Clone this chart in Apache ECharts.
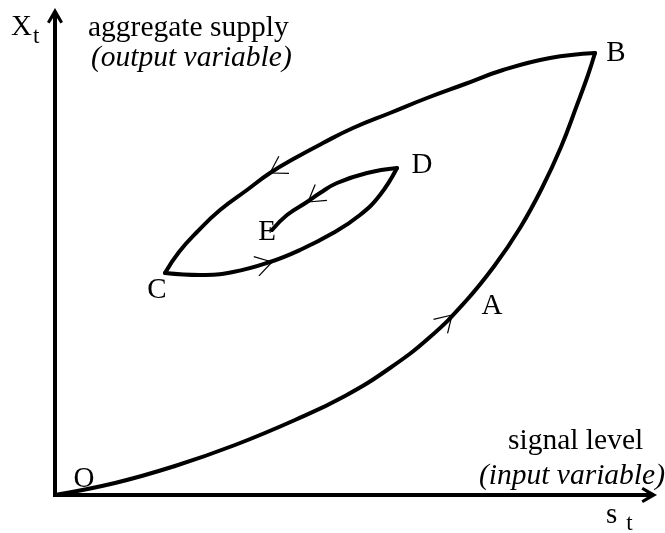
<!DOCTYPE html>
<html>
<head>
<meta charset="utf-8">
<script src="https://cdn.jsdelivr.net/npm/echarts@6/dist/echarts.min.js"></script>
<style>
  html, body { margin: 0; padding: 0; background: #fff; }
  #chart { width: 665px; height: 533px; }
</style>
</head>
<body>
<div id="chart"></div>
<script>
// curve pieces, x = signal level, y = aggregate supply (arbitrary units)
var pathOB = [[0, 0], [60, 12], [120, 29], [180, 50], [240, 75], [290, 99], [335, 127], [375, 158],
  [410, 193], [440, 230], [465, 267], [487, 307], [506, 348], [522, 390], [533, 420], [540, 442]];
var pathBC = [[540, 442], [495, 437], [448, 425], [410, 411], [372, 397], [335, 382], [298, 367],
  [268, 352], [242, 338], [215, 322], [192, 305], [165, 285], [142, 263], [124, 243], [110, 222]];
var pathCD = [[110, 222], [145, 220], [178, 223], [215, 233], [245, 245], [278, 262], [305, 280],
  [325, 300], [342, 327]];
var pathDE = [[342, 327], [312, 322], [282, 312], [265, 302], [252, 293], [232, 280], [217, 265]];

// arrow heads: tip x, tip y, point behind x, point behind y
var arrowHeads = [[397, 180, 375, 158], [215, 322, 242, 338], [217, 233, 180, 223], [253, 293, 268, 304]];

var pointNames = ['O', 'A', 'B', 'C', 'D', 'E'];
var pointX = [29, 437, 561, 102, 367, 212];
var pointY = [16, 189, 442, 205, 330, 263];

var xMax = 592;
var yMax = 477;

var serif = "'Liberation Serif', 'Times New Roman', serif";
var arrowPath = 'path://M8,0 L16,14 L13.4,15.6 L10,10 L10,20 L6,20 L6,10 L2.6,15.6 L0,14 Z';

function curve(data) {
    return {
        type: 'line',
        data: data,
        smooth: 0.45,
        showSymbol: false,
        silent: true,
        lineStyle: { color: '#000', width: 4, cap: 'round', join: 'round' },
        z: 3
    };
}

var labelData = pointNames.map(function (n, i) {
    return { name: n, value: [pointX[i], pointY[i]] };
});

var myChart = echarts.init(document.getElementById('chart'), null, { renderer: 'canvas' });
var option = {
    animation: false,
    backgroundColor: '#fff',
    grid: { left: 55, right: 18, top: 18, bottom: 38 },
    xAxis: {
        type: 'value',
        min: 0,
        max: xMax,
        axisLine: {
            show: true,
            symbol: ['none', arrowPath],
            symbolSize: [16, 20],
            lineStyle: { color: '#000', width: 4, cap: 'square' }
        },
        axisTick: { show: false },
        axisLabel: { show: false },
        splitLine: { show: false }
    },
    yAxis: {
        type: 'value',
        min: 0,
        max: yMax,
        axisLine: {
            show: true,
            symbol: ['none', arrowPath],
            symbolSize: [16, 20],
            lineStyle: { color: '#000', width: 4, cap: 'square' }
        },
        axisTick: { show: false },
        axisLabel: { show: false },
        splitLine: { show: false }
    },
    series: [
        curve(pathOB),
        curve(pathBC),
        curve(pathCD),
        curve(pathDE),
        {
            type: 'custom',
            data: arrowHeads,
            clip: false,
            silent: true,
            z: 4,
            renderItem: function (params, api) {
                var tip = api.coord([api.value(0), api.value(1)]);
                var back = api.coord([api.value(2), api.value(3)]);
                var ang = Math.atan2(back[1] - tip[1], back[0] - tip[0]);
                var len = 19, spread = 0.55;
                var arms = [ang - spread, ang + spread].map(function (a) {
                    return {
                        type: 'line',
                        shape: { x1: tip[0], y1: tip[1], x2: tip[0] + len * Math.cos(a), y2: tip[1] + len * Math.sin(a) },
                        style: { stroke: '#000', lineWidth: 1.2 }
                    };
                });
                return { type: 'group', children: arms };
            }
        },
        {
            type: 'scatter',
            data: labelData,
            symbolSize: 0,
            silent: true,
            itemStyle: { opacity: 1 },
            label: {
                show: true,
                position: 'inside',
                formatter: '{b}',
                color: '#000',
                opacity: 1,
                fontFamily: serif,
                fontSize: 29
            }
        }
    ],
    graphic: [
        {
            type: 'text',
            left: 11, top: 13,
            style: {
                text: '{a|X}{s|t}',
                rich: {
                    a: { fontFamily: serif, fontSize: 29, fill: '#000' },
                    s: { fontFamily: serif, fontSize: 23, fill: '#000', padding: [18, 0, 0, 1] }
                }
            }
        },
        {
            type: 'text',
            left: 88, top: 13,
            style: { text: 'aggregate supply', font: '29.5px ' + serif, fill: '#000' }
        },
        {
            type: 'text',
            left: 91, top: 43,
            style: { text: '(output variable)', font: 'italic 29.5px ' + serif, fill: '#000' }
        },
        {
            type: 'text',
            left: 508, top: 426,
            style: { text: 'signal level', font: '29.5px ' + serif, fill: '#000' }
        },
        {
            type: 'text',
            left: 479, top: 461,
            style: { text: '(input variable)', font: 'italic 29.5px ' + serif, fill: '#000' }
        },
        {
            type: 'text',
            left: 606, top: 501,
            style: {
                text: '{a|s}{s|t}',
                rich: {
                    a: { fontFamily: serif, fontSize: 29, fill: '#000' },
                    s: { fontFamily: serif, fontSize: 23, fill: '#000', padding: [17, 0, 0, 9] }
                }
            }
        }
    ]
};
myChart.setOption(option);
</script>
</body>
</html>
